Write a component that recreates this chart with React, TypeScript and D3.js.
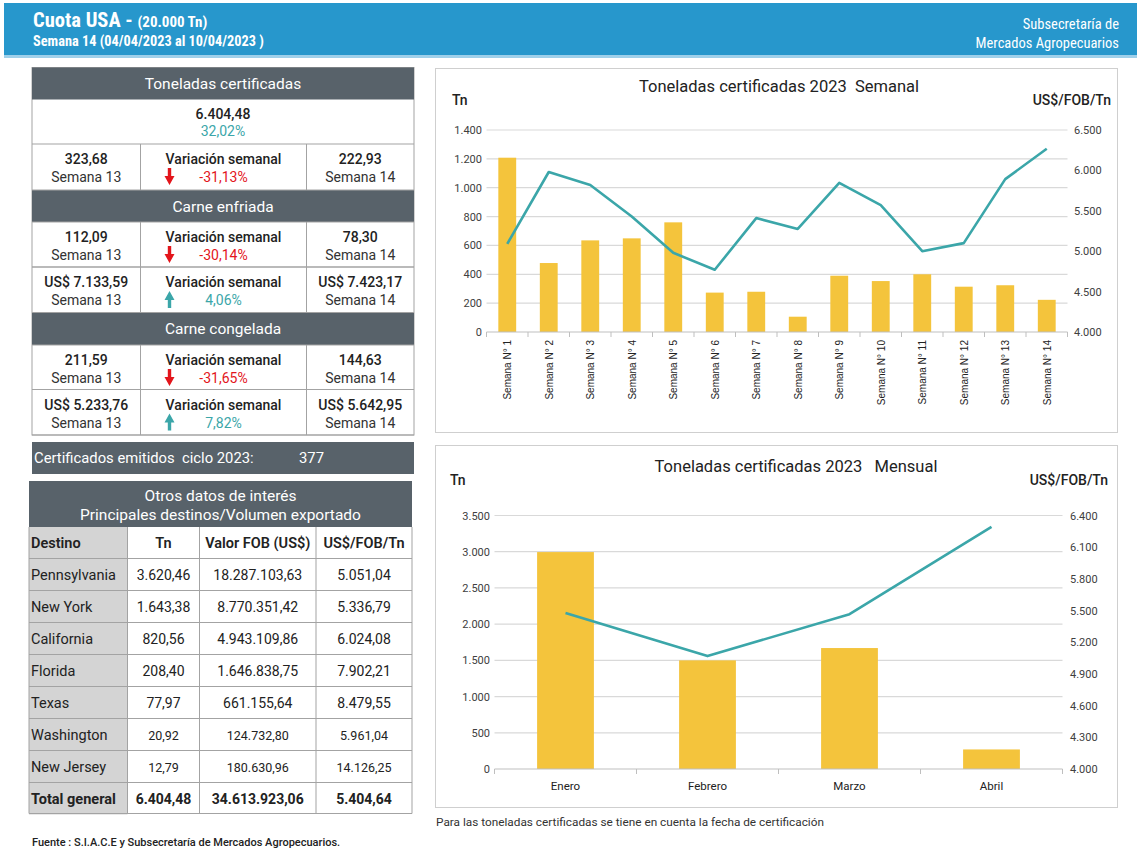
import React, { useEffect } from "react";
import * as d3 from "d3";

// ---------- DATA ----------
const weeks = [
  "Semana N° 1", "Semana N° 2", "Semana N° 3", "Semana N° 4", "Semana N° 5",
  "Semana N° 6", "Semana N° 7", "Semana N° 8", "Semana N° 9", "Semana N° 10",
  "Semana N° 11", "Semana N° 12", "Semana N° 13", "Semana N° 14",
];
const weeklyTn = [1208, 478, 635, 649, 760, 273, 279, 106, 390, 353, 400, 314, 324, 223];
const weeklyPrice = [5090, 5980, 5820, 5430, 4980, 4770, 5410, 5275, 5845, 5570, 5000, 5100, 5892, 6268];
const weeklyLeftTicks = [0, 200, 400, 600, 800, 1000, 1200, 1400];
const weeklyRightTicks = [4000, 4500, 5000, 5500, 6000, 6500];

const months = ["Enero", "Febrero", "Marzo", "Abril"];
const monthlyTn = [2995, 1500, 1670, 270];
const monthlyPrice = [5478, 5069, 5466, 6292];
const monthlyLeftTicks = [0, 500, 1000, 1500, 2000, 2500, 3000, 3500];
const monthlyRightTicks = [4000, 4300, 4600, 4900, 5200, 5500, 5800, 6100, 6400];

const sectionTitles = ["Toneladas certificadas", "Carne enfriada", "Carne congelada"];
const totalTn = "6.404,48";
const totalPct = "32,02%";
const prevValues = ["323,68", "112,09", "US$ 7.133,59", "211,59", "US$ 5.233,76"];
const curValues = ["222,93", "78,30", "US$ 7.423,17", "144,63", "US$ 5.642,95"];
const pctValues = ["-31,13%", "-30,14%", "4,06%", "-31,65%", "7,82%"];
const pctUp = [false, false, true, false, true];
const certLabel = "Certificados emitidos  ciclo 2023:";
const certValue = "377";

const destHeaders = ["Destino", "Tn", "Valor FOB (US$)", "US$/FOB/Tn"];
const destNames = ["Pennsylvania", "New York", "California", "Florida", "Texas", "Washington", "New Jersey", "Total general"];
const destTn = ["3.620,46", "1.643,38", "820,56", "208,40", "77,97", "20,92", "12,79", "6.404,48"];
const destFob = ["18.287.103,63", "8.770.351,42", "4.943.109,86", "1.646.838,75", "661.155,64", "124.732,80", "180.630,96", "34.613.923,06"];
const destPrice = ["5.051,04", "5.336,79", "6.024,08", "7.902,21", "8.479,55", "5.961,04", "14.126,25", "5.404,64"];

// ---------- STYLE ----------
const FONT = "Roboto, 'Noto Sans', sans-serif";
const NARROW = "'Roboto Condensed','Liberation Sans Narrow','Arial Narrow',Roboto,sans-serif";
const ARIAL = "'Liberation Sans', Arial, sans-serif";
const DARK = "#58626a";
const BORDER = "#a3a3a3";
const TEAL = "#3ba6a9";
const BAR = "#f4c43c";
const RED = "#e3151b";

const locale = d3.formatLocale({ decimal: ",", thousands: ".", grouping: [3], currency: ["$", ""] });
const fmt = locale.format(",d");

type ChartProps = {
  cats: string[]; bars: number[]; line: number[];
  lTicks: number[]; rTicks: number[];
  xr: [number, number]; yr: [number, number];
  pIn: number; pOut: number; rotate: boolean;
  box: [number, number, number, number];
  title: string; titleX: number; titleY: number;
  unitY: number; unitLX: number; unitRX: number;
  lLabelDx: number; rLabelDx: number;
};

function ComboChart(p: ChartProps) {
  const x = d3.scaleBand<string>().domain(p.cats).range(p.xr).paddingInner(p.pIn).paddingOuter(p.pOut);
  const yL = d3.scaleLinear().domain([0, d3.max(p.lTicks)!]).range(p.yr);
  const yR = d3.scaleLinear().domain([d3.min(p.rTicks)!, d3.max(p.rTicks)!]).range(p.yr);
  const step = x.step();
  const cx = (c: string) => (x(c) as number) + x.bandwidth() / 2;
  const linePath = d3.line<number>().x((_, i) => cx(p.cats[i])).y((d) => yR(d))(p.line) || "";
  const boundaries = d3.range(p.cats.length + 1).map((i) => p.xr[0] + i * step);
  const [bx, by, bw, bh] = p.box;
  return (
    <g>
      <rect x={bx} y={by} width={bw} height={bh} fill="#fff" stroke="#cfcfcf" />
      <text x={p.titleX} y={p.titleY} textAnchor="middle" fontFamily={FONT} fontSize={16.5} fill="#222" style={{ whiteSpace: "pre" }}>{p.title}</text>
      <text x={p.unitLX} y={p.unitY} fontFamily={FONT} fontSize={14} fontWeight={500} fill="#222">Tn</text>
      <text x={p.unitRX} y={p.unitY} textAnchor="end" fontFamily={FONT} fontSize={14} fontWeight={500} fill="#222">US$/FOB/Tn</text>
      {p.lTicks.filter((t) => t > 0).map((t) => (
        <line key={"g" + t} x1={p.xr[0]} x2={p.xr[1]} y1={yL(t)} y2={yL(t)} stroke="#d9d9d9" strokeWidth={1.2} />
      ))}
      {p.lTicks.map((t) => (
        <text key={"l" + t} x={p.xr[0] + p.lLabelDx} y={yL(t) + 4} textAnchor="end" fontFamily={FONT} fontSize={11} fill="#404040">{fmt(t)}</text>
      ))}
      {p.rTicks.map((t) => (
        <text key={"r" + t} x={p.xr[1] + p.rLabelDx} y={yR(t) + 4} fontFamily={FONT} fontSize={11} fill="#404040">{fmt(t)}</text>
      ))}
      {p.cats.map((c, i) => (
        <rect key={"b" + c} x={x(c)} y={yL(p.bars[i])} width={x.bandwidth()} height={yL(0) - yL(p.bars[i])} fill={BAR} />
      ))}
      <line x1={p.xr[0]} x2={p.xr[1]} y1={yL(0)} y2={yL(0)} stroke="#bfbfbf" strokeWidth={1} />
      {boundaries.map((b, i) => (
        <line key={"t" + i} x1={b} x2={b} y1={yL(0)} y2={yL(0) + 5} stroke="#bfbfbf" />
      ))}
      <path d={linePath} fill="none" stroke={TEAL} strokeWidth={2.6} strokeLinejoin="round" />
      {p.cats.map((c) =>
        p.rotate ? (
          <text key={"x" + c} transform={`translate(${cx(c) + 4},${yL(0) + 8}) rotate(-90)`} textAnchor="end" fontFamily={ARIAL} fontSize={10} fill="#222">{c}</text>
        ) : (
          <text key={"x" + c} x={cx(c)} y={yL(0) + 21} textAnchor="middle" fontFamily={FONT} fontSize={11.5} fill="#222">{c}</text>
        )
      )}
    </g>
  );
}

function Arrow({ cx, top, up }: { cx: number; top: number; up: boolean }) {
  const color = up ? TEAL : RED;
  const d = up
    ? `M${cx},${top} L${cx + 5},${top + 9} L${cx + 1.7},${top + 9} L${cx + 1.7},${top + 17} L${cx - 1.7},${top + 17} L${cx - 1.7},${top + 9} L${cx - 5},${top + 9} Z`
    : `M${cx - 1.7},${top} L${cx + 1.7},${top} L${cx + 1.7},${top + 8} L${cx + 5},${top + 8} L${cx},${top + 17} L${cx - 5},${top + 8} L${cx - 1.7},${top + 8} Z`;
  return <path d={d} fill={color} />;
}

export default function App() {
  useEffect(() => {
    document.body.style.margin = "0";
  }, []);

  // Table 1 layout
  const tx = [32, 140.5, 306.5, 414];
  const colC = [(tx[0] + tx[1]) / 2, (tx[1] + tx[2]) / 2, (tx[2] + tx[3]) / 2];
  const headers = [
    { y: 67.5, h: 32 },
    { y: 190, h: 32 },
    { y: 312.5, h: 32.5 },
  ];
  const varRows = [144, 222, 267, 345, 389.5];
  const varH = [46, 45, 45.5, 44.5, 45.5];

  // Table 2 layout
  const dx = [29, 127.5, 199.5, 316, 412];
  const dColC = [0, (dx[1] + dx[2]) / 2, (dx[2] + dx[3]) / 2, (dx[3] + dx[4]) / 2];
  const dHeadTop = 481;
  const dColTop = 527;
  const rowH = 32;
  const rowTops = destNames.map((_, i) => dColTop + rowH * (i + 1) - 0.5);

  return (
    <svg width={1142} height={855} style={{ display: "block", position: "absolute", left: 0, top: 0 }}>
      <rect width={1142} height={855} fill="#fff" />
      {/* Header */}
      <rect x={4} y={3} width={1133} height={52} fill="#2797cc" />
      <rect x={4} y={55} width={1133} height={3} fill="#9fd0ea" />
      <text x={33} y={27} fontFamily={NARROW} fontWeight={700} fill="#fff">
        <tspan fontSize={20.5}>Cuota USA - </tspan>
        <tspan fontSize={15}>(20.000 Tn)</tspan>
      </text>
      <text x={33} y={46} fontFamily={NARROW} fontWeight={700} fontSize={14.3} fill="#fff">Semana 14 (04/04/2023 al 10/04/2023 )</text>
      <text x={1119} y={29} textAnchor="end" fontFamily={NARROW} fontSize={14.5} fill="#fff">Subsecretaría de</text>
      <text x={1119} y={48} textAnchor="end" fontFamily={NARROW} fontSize={14.5} fill="#fff">Mercados Agropecuarios</text>

      {/* Table 1 */}
      <rect x={tx[0]} y={67.5} width={tx[3] - tx[0]} height={435 - 67.5} fill="#fff" stroke={BORDER} />
      {headers.map((h, i) => (
        <g key={"h" + i}>
          <rect x={tx[0]} y={h.y} width={tx[3] - tx[0]} height={h.h} fill={DARK} />
          <text x={(tx[0] + tx[3]) / 2} y={h.y + h.h / 2 + 5.5} textAnchor="middle" fontFamily={FONT} fontSize={15.5} fill="#fff">{sectionTitles[i]}</text>
        </g>
      ))}
      <text x={(tx[0] + tx[3]) / 2} y={119} textAnchor="middle" fontFamily={FONT} fontSize={14} fontWeight={500} fill="#222">{totalTn}</text>
      <text x={(tx[0] + tx[3]) / 2} y={136} textAnchor="middle" fontFamily={FONT} fontSize={14} fill={TEAL}>{totalPct}</text>
      {varRows.map((top, i) => (
        <g key={"v" + i}>
          <line x1={tx[0]} x2={tx[3]} y1={top} y2={top} stroke={BORDER} />
          <line x1={tx[0]} x2={tx[3]} y1={top + varH[i]} y2={top + varH[i]} stroke={BORDER} />
          <line x1={tx[1]} x2={tx[1]} y1={top} y2={top + varH[i]} stroke={BORDER} />
          <line x1={tx[2]} x2={tx[2]} y1={top} y2={top + varH[i]} stroke={BORDER} />
          <text x={colC[0]} y={top + 20} textAnchor="middle" fontFamily={FONT} fontSize={14} fontWeight={500} fill="#222">{prevValues[i]}</text>
          <text x={colC[0]} y={top + 38} textAnchor="middle" fontFamily={FONT} fontSize={14} fill="#333">Semana 13</text>
          <text x={colC[1]} y={top + 20} textAnchor="middle" fontFamily={FONT} fontSize={14} fontWeight={500} fill="#222">Variación semanal</text>
          <text x={colC[1]} y={top + 38} textAnchor="middle" fontFamily={FONT} fontSize={14} fill={pctUp[i] ? TEAL : RED}>{pctValues[i]}</text>
          <Arrow cx={169.5} top={top + 24} up={pctUp[i]} />
          <text x={colC[2]} y={top + 20} textAnchor="middle" fontFamily={FONT} fontSize={14} fontWeight={500} fill="#222">{curValues[i]}</text>
          <text x={colC[2]} y={top + 38} textAnchor="middle" fontFamily={FONT} fontSize={14} fill="#333">Semana 14</text>
        </g>
      ))}

      {/* Certificados */}
      <rect x={32} y={442} width={382} height={32} fill={DARK} />
      <text x={34} y={463} fontFamily={FONT} fontSize={14.8} fill="#fff" style={{ whiteSpace: "pre" }}>{certLabel}</text>
      <text x={299} y={463} fontFamily={FONT} fontSize={14.8} fill="#fff">{certValue}</text>

      {/* Table 2 */}
      <rect x={dx[0]} y={dHeadTop} width={dx[4] - dx[0]} height={dColTop - dHeadTop} fill={DARK} />
      <text x={(dx[0] + dx[4]) / 2} y={501} textAnchor="middle" fontFamily={FONT} fontSize={15.5} fill="#fff">Otros datos de interés</text>
      <text x={(dx[0] + dx[4]) / 2} y={519.5} textAnchor="middle" fontFamily={FONT} fontSize={15.5} fill="#fff">Principales destinos/Volumen exportado</text>
      <rect x={dx[0]} y={dColTop} width={dx[1] - dx[0]} height={rowH * 9 - 0.5} fill="#d4d4d4" />
      {destHeaders.map((h, j) => (
        <text key={"dh" + j} x={j === 0 ? 31 : dColC[j]} y={dColTop + 21} textAnchor={j === 0 ? "start" : "middle"} fontFamily={FONT} fontSize={14.5} fontWeight={600} fill="#222">{h}</text>
      ))}
      {rowTops.map((top, i) => {
        const total = i === destNames.length - 1;
        const small = i === 5 || i === 6;
        const fs = small ? 12.5 : 14;
        return (
          <g key={"dr" + i}>
            <line x1={dx[0]} x2={dx[4]} y1={top} y2={top} stroke={BORDER} />
            <text x={31} y={top + 21} fontFamily={FONT} fontSize={14.5} fontWeight={total ? 700 : 400} fill="#222">{destNames[i]}</text>
            <text x={dColC[1]} y={top + 21} textAnchor="middle" fontFamily={FONT} fontSize={fs} fontWeight={total ? 700 : 400} fill="#222">{destTn[i]}</text>
            <text x={dColC[2]} y={top + 21} textAnchor="middle" fontFamily={FONT} fontSize={fs} fontWeight={total ? 700 : 400} fill="#222">{destFob[i]}</text>
            <text x={dColC[3]} y={top + 21} textAnchor="middle" fontFamily={FONT} fontSize={fs} fontWeight={total ? 700 : 400} fill="#222">{destPrice[i]}</text>
          </g>
        );
      })}
      {dx.map((xv, j) => (
        <line key={"dv" + j} x1={xv} x2={xv} y1={dColTop} y2={813.5} stroke={BORDER} />
      ))}
      <line x1={dx[0]} x2={dx[4]} y1={813.5} y2={813.5} stroke={BORDER} />

      <text x={32} y={846} fontFamily={FONT} fontSize={11} fontWeight={500} fill="#222">Fuente : S.I.A.C.E y Subsecretaría de Mercados Agropecuarios.</text>

      {/* Charts */}
      <ComboChart
        cats={weeks} bars={weeklyTn} line={weeklyPrice}
        lTicks={weeklyLeftTicks} rTicks={weeklyRightTicks}
        xr={[486.5, 1067.5]} yr={[332, 130]} pIn={0.57} pOut={0.285} rotate={true}
        box={[435.5, 68.5, 682, 364]}
        title={"Toneladas certificadas 2023  Semanal"} titleX={779} titleY={92}
        unitY={105} unitLX={452} unitRX={1111}
        lLabelDx={-4.5} rLabelDx={6.5}
      />
      <ComboChart
        cats={months} bars={monthlyTn} line={monthlyPrice}
        lTicks={monthlyLeftTicks} rTicks={monthlyRightTicks}
        xr={[494.5, 1062.5]} yr={[769, 515.5]} pIn={0.6} pOut={0.3} rotate={false}
        box={[435.5, 445.5, 682, 362]}
        title={"Toneladas certificadas 2023   Mensual"} titleX={796} titleY={472}
        unitY={485} unitLX={450} unitRX={1108}
        lLabelDx={-4.5} rLabelDx={7.5}
      />
      <text x={436} y={826} fontFamily={FONT} fontSize={11.8} fill="#333">Para las toneladas certificadas se tiene en cuenta la fecha de certificación</text>
    </svg>
  );
}
